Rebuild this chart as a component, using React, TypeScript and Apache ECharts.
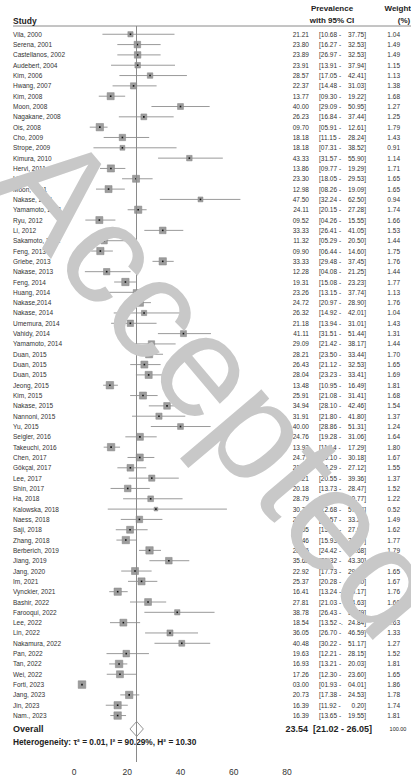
import React, { useEffect, useRef } from "react";
import * as echarts from "echarts";

const studies = [
  "Vila, 2000", "Serena, 2001", "Castellanos, 2002", "Audebert, 2004", "Kim, 2006",
  "Hwang, 2007", "Kim, 2008", "Moon, 2008", "Nagakane, 2008", "Ois, 2008",
  "Cho, 2009", "Strope, 2009", "Kimura, 2010", "Hervi, 2011", "Liu, 2011",
  "Moon, 2011", "Nakase, 2011", "Yamamoto, 2011", "Ryu, 2012", "Li, 2012",
  "Sakamoto, 2012", "Feng, 2013", "Griebe, 2013", "Nakase, 2013", "Feng, 2014",
  "Huang, 2014", "Nakase,2014", "Nakase, 2014", "Umemura, 2014", "Vahidy, 2014",
  "Yamamoto, 2014", "Duan, 2015", "Duan, 2015", "Duan, 2015", "Jeong, 2015",
  "Kim, 2015", "Nakase, 2015", "Nannoni, 2015", "Yu, 2015", "Seigler, 2016",
  "Takeuchi, 2016", "Chen, 2017", "Gökçal, 2017", "Lee, 2017", "Shin, 2017",
  "Ha, 2018", "Kalowska, 2018", "Naess, 2018", "Saji, 2018", "Zhang, 2018",
  "Berberich, 2019", "Jiang, 2019", "Jang, 2020", "Im, 2021", "Vynckier, 2021",
  "Bashir, 2022", "Farooqui, 2022", "Lee, 2022", "Lin, 2022", "Nakamura, 2022",
  "Pan, 2022", "Tan, 2022", "Wei, 2022", "Forti, 2023", "Jang, 2023",
  "Jin, 2023", "Nam., 2023",
];

const prevalence = [
  21.21, 23.80, 23.89, 23.91, 28.57, 22.37, 13.77, 40.00, 26.23, 9.70,
  18.18, 18.18, 43.33, 13.86, 23.30, 12.98, 47.50, 24.11, 9.52, 33.33,
  11.32, 9.90, 33.33, 12.28, 19.31, 23.26, 24.72, 26.32, 21.18, 41.11,
  29.09, 28.21, 26.43, 28.04, 13.48, 25.91, 34.94, 31.91, 40.00, 24.76,
  13.93, 24.71, 21.17, 29.21, 20.18, 28.79, 30.77, 24.56, 21.05, 19.46,
  28.36, 35.62, 22.92, 25.37, 16.41, 27.81, 38.78, 18.54, 36.05, 40.48,
  19.63, 16.93, 17.26, 3.00, 20.73, 16.39, 16.39,
];

const ciLower = [
  10.68, 16.27, 16.27, 13.91, 17.05, 14.48, 9.30, 29.09, 16.84, 5.91,
  11.15, 7.31, 31.57, 9.77, 18.05, 8.26, 32.24, 20.15, 4.26, 26.41,
  5.29, 6.44, 29.48, 4.08, 15.08, 13.15, 20.97, 14.92, 13.94, 31.51,
  21.42, 23.50, 21.12, 23.23, 10.95, 21.08, 28.10, 21.80, 28.86, 19.28,
  11.14, 20.10, 16.29, 20.55, 13.73, 18.45, 12.68, 17.57, 15.69, 15.93,
  24.42, 28.32, 17.73, 20.28, 13.24, 21.03, 26.43, 13.52, 26.70, 30.22,
  12.21, 13.21, 12.30, 1.93, 17.38, 11.92, 13.65,
];

const ciUpper = [
  37.75, 32.53, 32.53, 37.94, 42.41, 31.03, 19.22, 50.95, 37.44, 12.61,
  28.24, 38.52, 55.90, 19.29, 29.53, 19.09, 62.50, 27.28, 15.55, 41.05,
  20.50, 14.60, 37.45, 21.25, 23.23, 37.74, 28.90, 42.01, 31.01, 51.44,
  38.17, 33.44, 32.53, 33.41, 16.49, 31.41, 42.46, 41.80, 51.31, 31.06,
  17.29, 30.18, 27.12, 39.36, 28.47, 40.77, 57.44, 33.21, 27.66, 23.57,
  32.68, 43.30, 29.15, 31.30, 20.17, 34.63, 52.79, 24.84, 46.59, 51.17,
  28.15, 20.03, 23.60, 4.01, 24.53, 20.20, 19.55,
];

const weights = [
  1.04, 1.49, 1.49, 1.15, 1.13, 1.38, 1.68, 1.27, 1.25, 1.79,
  1.43, 0.91, 1.14, 1.71, 1.65, 1.65, 0.94, 1.74, 1.66, 1.53,
  1.44, 1.75, 1.76, 1.44, 1.77, 1.13, 1.76, 1.04, 1.43, 1.31,
  1.44, 1.70, 1.65, 1.69, 1.81, 1.68, 1.54, 1.37, 1.24, 1.64,
  1.80, 1.67, 1.55, 1.37, 1.52, 1.22, 0.52, 1.49, 1.62, 1.77,
  1.79, 1.52, 1.65, 1.67, 1.76, 1.60, 1.07, 1.63, 1.33, 1.27,
  1.52, 1.81, 1.65, 1.86, 1.78, 1.74, 1.81,
];

// entries printed differently in the source table (kept as printed)
const printedLower: Record<number, string> = { 2: "[26.97 -", 57: "[13.52 -." };
const printedUpper: Record<number, string> = { 65: "0.20]" };

const overall = { est: 23.54, lo: 21.02, hi: 26.05, weight: "100.00" };
const heterogeneity = "Heterogeneity: τ² = 0.01, I² = 90.29%, H² = 10.30";
const xTicks = { min: 0, max: 80, interval: 20 };

const FONT = '"Liberation Sans", Arial, Helvetica, sans-serif';
const fmt = (v: number) => v.toFixed(2).padStart(5, "0");

export default function App() {
  const ref = useRef<HTMLDivElement>(null);
  useEffect(() => {
    const chart = echarts.init(ref.current!, null, { renderer: "svg" });
    const rows = studies.map((s, i) => [i, prevalence[i], ciLower[i], ciUpper[i], weights[i]]);
    const overallRow = 67.3;
    const hetRow = 68.6;
    const txt = "#333";

    const option: any = {
      animation: false,
      grid: { left: 74, width: 213, top: 26, height: 736 },
      xAxis: {
        type: "value",
        min: xTicks.min,
        max: xTicks.max,
        interval: xTicks.interval,
        axisLine: { show: false },
        axisTick: { show: false },
        splitLine: { show: false },
        axisLabel: { fontSize: 8.5, color: txt, margin: 5, fontFamily: FONT },
      },
      yAxis: { type: "value", inverse: true, min: -0.8, max: 70.5, show: false },
      series: [
        {
          type: "custom",
          clip: false,
          data: rows,
          renderItem: (params: any, api: any) => {
            const i = api.value(0);
            const c = api.coord([api.value(1), i]);
            const l = api.coord([api.value(2), i]);
            const h = api.coord([api.value(3), i]);
            const s = 2.2 + 2.9 * api.value(4);
            return {
              type: "group",
              children: [
                { type: "line", shape: { x1: l[0], y1: c[1], x2: h[0], y2: c[1] }, style: { stroke: "#9a9a9a", lineWidth: 1 } },
                { type: "rect", shape: { x: c[0] - s / 2, y: c[1] - s / 2, width: s, height: s }, style: { fill: "#9d9d9d", stroke: "#808080", lineWidth: 0.5 } },
                { type: "rect", shape: { x: c[0] - 0.8, y: c[1] - 0.8, width: 1.6, height: 1.6 }, style: { fill: "#111" } },
              ],
            };
          },
          markLine: {
            silent: true,
            symbol: ["none", "none"],
            label: { show: false },
            lineStyle: { color: "#8a8a8a", width: 1, type: "solid" },
            data: [{ xAxis: overall.est }],
          },
        },
        {
          type: "custom",
          clip: false,
          data: rows,
          renderItem: (params: any, api: any) => {
            const i = api.value(0);
            const y = api.coord([0, i])[1];
            const base = { fontSize: 6.5, fontFamily: FONT, fill: txt, verticalAlign: "middle" };
            return {
              type: "group",
              children: [
                { type: "text", x: 13, y, style: { ...base, text: studies[i], align: "left" } },
                { type: "text", x: 309, y, style: { ...base, text: fmt(api.value(1)), align: "right" } },
                { type: "text", x: 319, y, style: { ...base, text: printedLower[i] ?? `[${fmt(api.value(2))} -`, align: "left" } },
                { type: "text", x: 366, y, style: { ...base, text: printedUpper[i] ?? `${fmt(api.value(3))}]`, align: "right" } },
                { type: "text", x: 400, y, style: { ...base, text: api.value(4).toFixed(2), align: "right" } },
              ],
            };
          },
        },
        {
          type: "custom",
          clip: false,
          data: [[overallRow, overall.est, overall.lo, overall.hi]],
          renderItem: (params: any, api: any) => {
            const r = api.value(0);
            const c = api.coord([api.value(1), r]);
            const l = api.coord([api.value(2), r]);
            const h = api.coord([api.value(3), r]);
            const hy = api.coord([0, hetRow])[1];
            const bold = { fontSize: 9, fontWeight: "bold", fontFamily: FONT, fill: "#222", verticalAlign: "middle" };
            return {
              type: "group",
              children: [
                {
                  type: "polygon",
                  shape: { points: [[l[0], c[1]], [c[0], c[1] - 7.5], [h[0], c[1]], [c[0], c[1] + 7.5]] },
                  style: { fill: "#fff", stroke: "#777", lineWidth: 0.8 },
                },
                { type: "text", x: 13, y: c[1], style: { ...bold, text: "Overall", align: "left" } },
                { type: "text", x: 308, y: c[1], style: { ...bold, text: fmt(api.value(1)), align: "right" } },
                { type: "text", x: 313, y: c[1], style: { ...bold, text: `[${fmt(api.value(2))} -`, align: "left" } },
                { type: "text", x: 372, y: c[1], style: { ...bold, text: `${fmt(api.value(3))}]`, align: "right" } },
                { type: "text", x: 398, y: c[1], style: { fontSize: 5.5, fontFamily: FONT, fill: "#222", verticalAlign: "middle", text: overall.weight, align: "center" } },
                { type: "text", x: 13, y: hy, style: { ...bold, fontSize: 8.3, text: heterogeneity, align: "left" } },
              ],
            };
          },
        },
      ],
      graphic: [
        { type: "line", shape: { x1: 13, y1: 26, x2: 411, y2: 26 }, style: { stroke: "#8a8a8a", lineWidth: 1 } },
        { type: "text", x: 13, y: 20.5, style: { text: "Study", fontSize: 8.5, fontWeight: "bold", fontFamily: FONT, fill: "#222", verticalAlign: "middle" } },
        { type: "text", x: 332, y: 8.5, style: { text: "Prevalence", fontSize: 8, fontWeight: "bold", fontFamily: FONT, fill: "#222", align: "center", verticalAlign: "middle" } },
        { type: "text", x: 332, y: 20, style: { text: "with 95% CI", fontSize: 8, fontWeight: "bold", fontFamily: FONT, fill: "#222", align: "center", verticalAlign: "middle" } },
        { type: "text", x: 411, y: 8.5, style: { text: "Weight", fontSize: 8, fontWeight: "bold", fontFamily: FONT, fill: "#222", align: "right", verticalAlign: "middle" } },
        { type: "text", x: 404, y: 20, style: { text: "(%)", fontSize: 8, fontWeight: "bold", fontFamily: FONT, fill: "#222", align: "center", verticalAlign: "middle" } },
        {
          type: "text",
          x: 222,
          y: 384,
          rotation: -0.87,
          z: 100,
          style: { text: "Accepted", fontSize: 145, fontFamily: FONT, fill: "#c8c8c8", align: "center", verticalAlign: "middle" },
        },
      ],
    };
    chart.setOption(option);
    return () => chart.dispose();
  }, []);
  return <div ref={ref} style={{ position: "absolute", left: 0, top: 0, width: 411, height: 780 }} />;
}
